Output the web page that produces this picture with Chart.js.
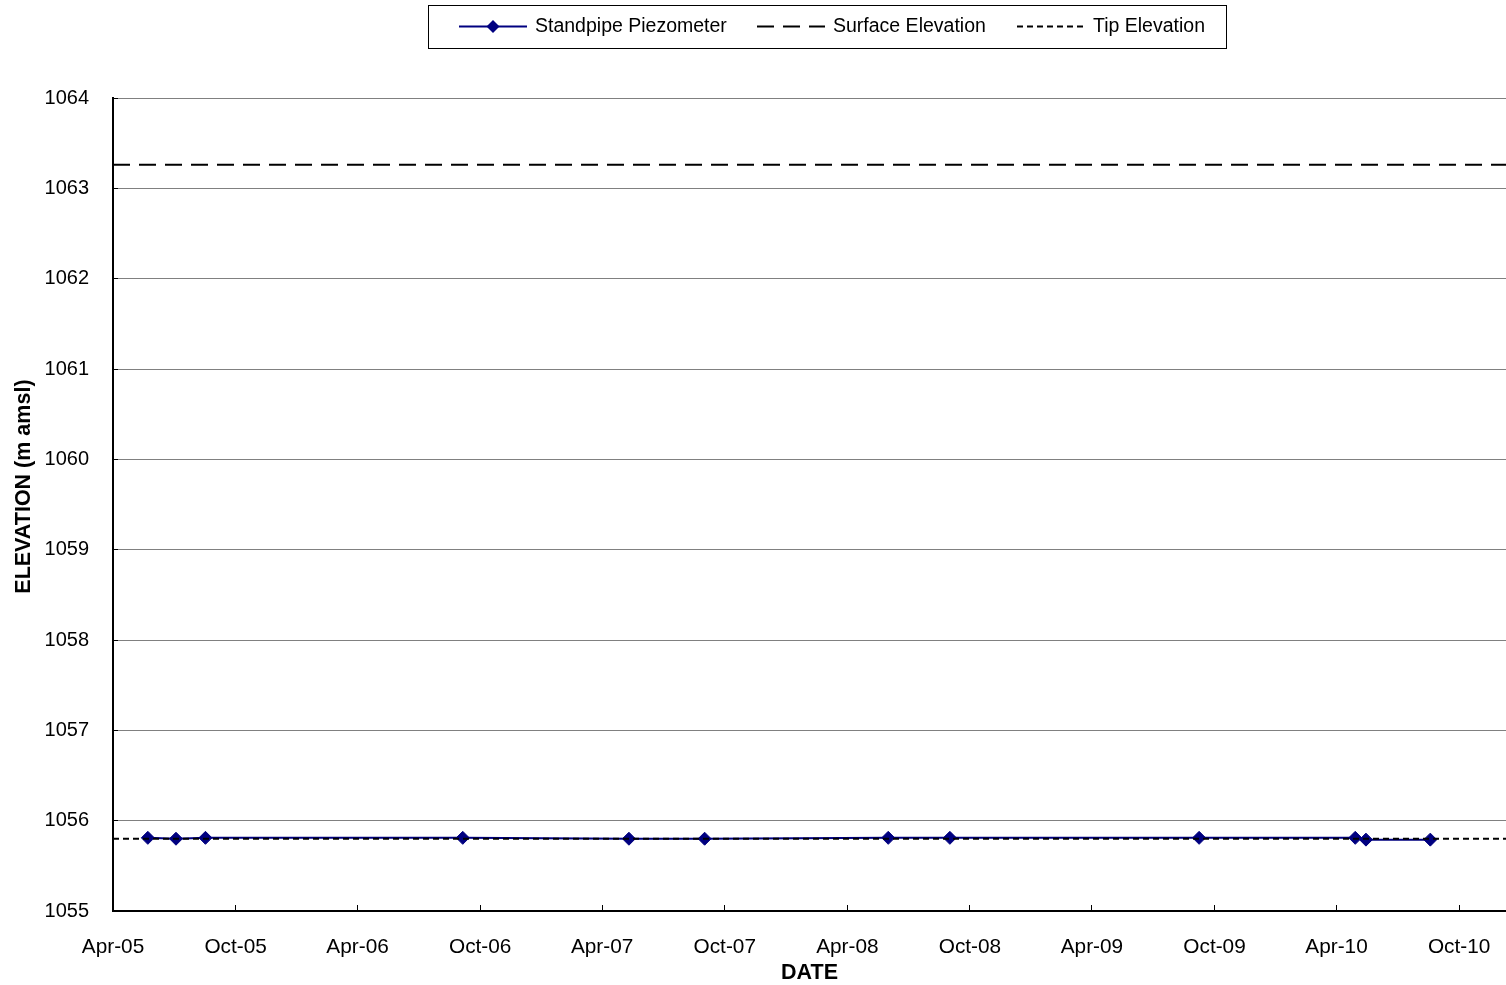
<!DOCTYPE html>
<html>
<head>
<script src="https://cdn.jsdelivr.net/npm/chart.js@4.4.1/dist/chart.umd.min.js"></script>
<style>
  html, body { margin: 0; padding: 0; background: #fff; }
  canvas { display: block; }
</style>
</head>
<body>
<canvas id="chart" width="1506" height="985"></canvas>
<script>
// readings of the standpipe piezometer
const readDates = ["2005-05-23", "2005-07-04", "2005-08-17", "2006-09-05", "2007-05-11", "2007-09-01",
                   "2008-06-01", "2008-09-01", "2009-09-08", "2010-04-29", "2010-05-15", "2010-08-19"];
const piezoLevels = [1055.81, 1055.80, 1055.81, 1055.81, 1055.80, 1055.80,
                     1055.81, 1055.81, 1055.81, 1055.81, 1055.79, 1055.79];
const surfaceElevation = 1063.26;
const tipElevation = 1055.80;

const axisStart = "2005-04-01";
const axisEnd = "2010-12-10";
const tickDates = ["2005-04-01", "2005-10-01", "2006-04-01", "2006-10-01", "2007-04-01", "2007-10-01",
                   "2008-04-01", "2008-10-01", "2009-04-01", "2009-10-01", "2010-04-01", "2010-10-01"];
const tickLabels = ["Apr-05", "Oct-05", "Apr-06", "Oct-06", "Apr-07", "Oct-07",
                    "Apr-08", "Oct-08", "Apr-09", "Oct-09", "Apr-10", "Oct-10"];
const yMin = 1055, yMax = 1064;

const dayOf = s => (Date.parse(s) - Date.parse(axisStart)) / 86400000;
const xMax = dayOf(axisEnd);

const FONT = "'Liberation Sans', Arial, sans-serif";
Chart.defaults.font.family = FONT;
Chart.defaults.color = "#000";

// excel style legend in a box at the top
const legendBox = {
  id: "legendBox",
  afterDraw(chart) {
    const ctx = chart.ctx;
    ctx.save();
    ctx.strokeStyle = "#000";
    ctx.lineWidth = 1;
    ctx.strokeRect(428.5, 5.5, 798, 43);
    const starts = [459, 757, 1017];
    const cy = 27;
    chart.data.datasets.forEach((ds, i) => {
      const x0 = starts[i];
      ctx.beginPath();
      ctx.setLineDash(ds.borderDash || []);
      ctx.strokeStyle = ds.borderColor;
      ctx.lineWidth = ds.borderWidth;
      ctx.moveTo(x0, cy - 0.5);
      ctx.lineTo(x0 + 68, cy - 0.5);
      ctx.stroke();
      ctx.setLineDash([]);
      if (ds.pointRadius > 0) {
        ctx.beginPath();
        ctx.fillStyle = ds.pointBackgroundColor;
        ctx.moveTo(x0 + 34 - 6.5, cy - 0.5);
        ctx.lineTo(x0 + 34, cy - 7);
        ctx.lineTo(x0 + 34 + 6.5, cy - 0.5);
        ctx.lineTo(x0 + 34, cy + 6);
        ctx.closePath();
        ctx.fill();
      }
      ctx.fillStyle = "#000";
      ctx.font = "19.5px " + FONT;
      ctx.textBaseline = "middle";
      ctx.textAlign = "left";
      ctx.fillText(ds.label, x0 + 76, cy);
    });
    ctx.restore();
  }
};

new Chart(document.getElementById("chart"), {
  type: "line",
  data: {
    datasets: [
      {
        label: "Standpipe Piezometer",
        data: readDates.map((d, i) => ({ x: dayOf(d), y: piezoLevels[i] })),
        borderColor: "#000080",
        borderWidth: 2,
        pointStyle: "rectRot",
        pointRadius: 6.5,
        pointBackgroundColor: "#000080",
        pointBorderColor: "#000080",
        pointBorderWidth: 1,
        order: 2
      },
      {
        label: "Surface Elevation",
        data: [{ x: 0, y: surfaceElevation }, { x: xMax, y: surfaceElevation }],
        borderColor: "#000",
        borderWidth: 2,
        borderDash: [17, 9],
        pointRadius: 0,
        order: 1
      },
      {
        label: "Tip Elevation",
        data: [{ x: 0, y: tipElevation }, { x: xMax, y: tipElevation }],
        borderColor: "#000",
        borderWidth: 2,
        borderDash: [6, 4],
        pointRadius: 0,
        order: 0
      }
    ]
  },
  options: {
    responsive: false,
    animation: false,
    layout: { autoPadding: false, padding: { top: 98, right: 0, bottom: 0, left: 0 } },
    plugins: {
      legend: { display: false },
      tooltip: { enabled: false }
    },
    scales: {
      x: {
        type: "linear",
        min: 0,
        max: xMax,
        afterBuildTicks: scale => {
          scale.ticks = tickDates.map(d => ({ value: dayOf(d) }));
        },
        afterFit: scale => {
          scale.height = 74;
          scale.paddingRight = 0;
          scale.paddingLeft = 0;
        },
        ticks: {
          autoSkip: false,
          maxRotation: 0,
          padding: 30,
          font: { size: 20.8 },
          callback: (v, i) => tickLabels[i]
        },
        grid: {
          drawOnChartArea: false,
          drawTicks: true,
          tickLength: -6,
          color: "#000"
        },
        border: { display: true, color: "#000", width: 2 },
        title: {
          display: true,
          text: "DATE",
          font: { size: 21.5, weight: "bold" },
          padding: { top: 0, bottom: -1 }
        }
      },
      y: {
        min: yMin,
        max: yMax,
        afterFit: scale => { scale.width = 113; },
        ticks: {
          stepSize: 1,
          padding: 29,
          font: { size: 20 },
          callback: v => String(v)
        },
        grid: {
          color: "#808080",
          lineWidth: 1,
          drawTicks: true,
          tickLength: -5,
          tickColor: "#000"
        },
        border: { display: true, color: "#000", width: 2 },
        title: {
          display: true,
          text: "      ELEVATION (m amsl)",
          font: { size: 21.5, weight: "bold" },
          padding: { top: 11, bottom: 0 }
        }
      }
    }
  },
  plugins: [legendBox]
});
</script>
</body>
</html>
